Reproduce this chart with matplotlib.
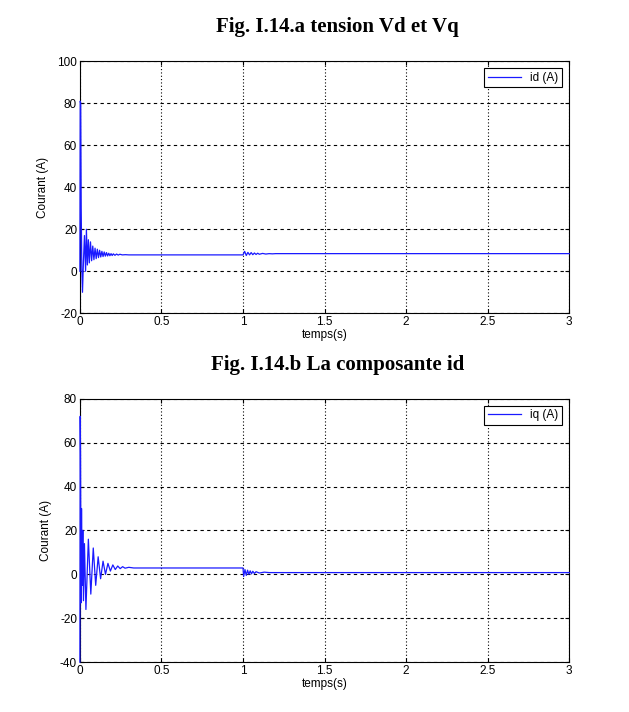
import numpy as np
import matplotlib
matplotlib.use("Agg")
import matplotlib.pyplot as plt

# id (A) : vertices (t in s, value in A)
id_t = [0, 0.002, 0.005, 0.008, 0.012, 0.016, 0.022, 0.028, 0.035, 0.040,
        0.046, 0.052, 0.058, 0.065, 0.072, 0.079, 0.086, 0.093, 0.100, 0.107,
        0.114, 0.121, 0.128, 0.135, 0.142, 0.149, 0.156, 0.163, 0.170, 0.177,
        0.184, 0.191, 0.198, 0.205, 0.215, 0.225, 0.235, 0.245, 0.26, 0.28,
        0.30, 1.0, 1.01, 1.02, 1.03, 1.04, 1.05, 1.06, 1.07, 1.08,
        1.09, 1.10, 1.12, 1.14, 1.16, 1.18, 1.2, 3.0]
id_v = [0, 81, 80, 30, 1, -10, 5, 17, 0, 20,
        3, 15, 4, 14, 5, 12, 5.5, 11, 6, 10.5,
        6.5, 10, 6.8, 9.5, 7, 9.2, 7.2, 8.9, 7.3, 8.6,
        7.4, 8.4, 7.5, 8.3, 7.6, 8.2, 7.7, 8.1, 7.8, 7.9,
        7.8, 7.8, 9.5, 7.5, 9.0, 7.8, 8.9, 7.9, 8.7, 8.0,
        8.6, 8.1, 8.5, 8.2, 8.4, 8.3, 8.4, 8.4]

# iq (A) : vertices
iq_t = [0, 0.002, 0.004, 0.007, 0.010, 0.014, 0.018, 0.022, 0.028, 0.037,
        0.052, 0.067, 0.082, 0.097, 0.112, 0.127, 0.142, 0.157, 0.172, 0.187,
        0.202, 0.217, 0.232, 0.247, 0.262, 0.277, 0.30, 0.33, 1.0, 1.004,
        1.012, 1.02, 1.028, 1.036, 1.044, 1.052, 1.06, 1.07, 1.08, 1.10,
        1.13, 1.16, 1.2, 3.0]
iq_v = [-40, 72, 55, -13, 30, -5, 20, -12, 14, -16,
        16, -9, 12, -5, 8, -2, 6, 0, 5, 1.5,
        4.3, 2.2, 3.8, 2.6, 3.5, 2.8, 3.2, 2.9, 2.9, -1,
        2.2, -0.5, 1.9, 0, 1.6, 0.2, 1.4, 0.4, 1.2, 0.6,
        1.0, 0.8, 0.8, 0.8]

x_ticks = [0, 0.5, 1, 1.5, 2, 2.5, 3]
x_ticklabels = ["0", "0.5", "1", "1.5", "2", "2.5", "3"]

panels = [
    ("Fig. I.14.a tension Vd et Vq", id_t, id_v, "id (A)", (-20, 100), range(-20, 101, 20)),
    ("Fig. I.14.b La composante id", iq_t, iq_v, "iq (A)", (-40, 80), range(-40, 81, 20)),
]

fig = plt.figure(figsize=(6.29, 7.12), dpi=100)
ax_rects = [[0.127, 0.560, 0.778, 0.354], [0.127, 0.070, 0.778, 0.370]]
title_y = [0.962, 0.488]
sans = ["Liberation Sans", "DejaVu Sans"]

for (title, t, v, lab, ylim, yt), rect, ty in zip(panels, ax_rects, title_y):
    ax = fig.add_axes(rect)
    ax.plot(t, v, color="#1a1aff", lw=0.9, label=lab, zorder=3, clip_on=False)
    ax.set_xlim(0, 3)
    ax.set_ylim(*ylim)
    ax.set_xticks(x_ticks)
    ax.set_xticklabels(x_ticklabels, fontsize=8.5, family=sans)
    ax.set_yticks(list(yt))
    ax.set_yticklabels([str(y) for y in yt], fontsize=8.5, family=sans)
    ax.tick_params(direction="in", length=3, top=True, right=True, pad=2)
    for s in ax.spines.values():
        s.set_linewidth(0.8)
    # MATLAB style grid
    ax.xaxis.grid(True, color="black", linestyle=(0, (1, 2)), lw=0.8)
    ax.yaxis.grid(True, color="black", linestyle=(0, (3, 3)), lw=0.8)
    ax.set_xlabel("temps(s)", fontsize=8.5, family=sans, labelpad=1)
    ax.set_ylabel("Courant (A)", fontsize=8.5, family=sans, labelpad=6)
    leg = ax.legend(loc="upper right", fancybox=False, framealpha=1,
                    edgecolor="black", prop={"family": sans, "size": 8.5},
                    handlelength=2.8, borderpad=0.3, borderaxespad=0.6)
    leg.get_frame().set_linewidth(0.8)
    fig.text(0.536, ty, title, ha="center", va="center", fontsize=15,
             fontweight="bold", family=["Liberation Serif", "DejaVu Serif"])

fig.savefig("out.png", dpi=100)
